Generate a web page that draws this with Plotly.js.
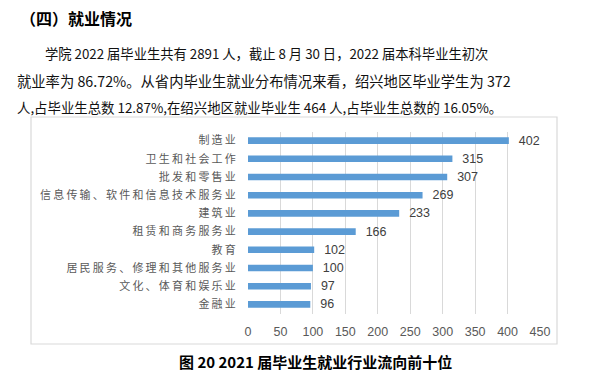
<!DOCTYPE html>
<html>
<head>
<meta charset="utf-8">
<script src="https://cdn.plot.ly/plotly-3.0.1.min.js"></script>
<style>html,body{margin:0;padding:0;background:#fff;}#chart{width:598px;height:377px;}</style>
</head>
<body>
<div id="chart"></div>
<script>
// ---- data ----
const categories = ["制造业", "卫生和社会工作", "批发和零售业", "信息传输、软件和信息技术服务业", "建筑业",
  "租赁和商务服务业", "教育", "居民服务、修理和其他服务业", "文化、体育和娱乐业", "金融业"];
const counts = [402, 315, 307, 269, 233, 166, 102, 100, 97, 96];
const xTicks = [0, 50, 100, 150, 200, 250, 300, 350, 400, 450];
const heading = "（四）就业情况";
const paragraphLines = [
  "学院 2022 届毕业生共有 2891 人，截止 8 月 30 日，2022 届本科毕业生初次",
  "就业率为 86.72%。从省内毕业生就业分布情况来看，绍兴地区毕业学生为 372",
  "人,占毕业生总数 12.87%,在绍兴地区就业毕业生 464 人,占毕业生总数的 16.05%。"
];
const caption = "图 20 2021 届毕业生就业行业流向前十位";

// ---- layout helpers ----
const W = 598, H = 377;
const px = x => x / W;
const py = y => 1 - y / H;
const spaced = s => s.split("").join("\u2009");

const trace = {
  type: "bar",
  orientation: "h",
  y: categories,
  x: counts,
  width: 0.36,
  marker: {color: "#5b9bd5"},
  text: counts.map(v => "\u00a0\u00a0" + v),
  textposition: "outside",
  constraintext: "none",
  cliponaxis: false,
  textfont: {family: "Liberation Sans, Arial, sans-serif", size: 12.5, color: "#404040"},
  hoverinfo: "skip"
};

const paraFont = s => ({family: "Noto Sans CJK SC", size: s, color: "#111"});
const annotations = [
  {text: heading, x: px(18), y: py(17.5), xanchor: "left", yanchor: "middle",
   font: {family: "Noto Sans CJK SC", size: 16, color: "#000", weight: 700}},
  {text: paragraphLines[0], x: px(43), y: py(53), xanchor: "left", yanchor: "middle", font: paraFont(13.3)},
  {text: paragraphLines[1], x: px(15), y: py(80), xanchor: "left", yanchor: "middle", font: paraFont(14.3)},
  {text: paragraphLines[2], x: px(15), y: py(107), xanchor: "left", yanchor: "middle", font: paraFont(13.4)},
  {text: caption, x: px(315), y: py(361), xanchor: "center", yanchor: "middle",
   font: {family: "Noto Sans CJK SC", size: 15, color: "#000", weight: 700}}
].map(a => Object.assign({xref: "paper", yref: "paper", showarrow: false}, a));

const layout = {
  width: W, height: H,
  margin: {l: 0, r: 0, t: 0, b: 0},
  paper_bgcolor: "#fff", plot_bgcolor: "#fff",
  showlegend: false,
  bargap: 0.64,
  xaxis: {
    domain: [px(248), px(540)],
    range: [0, 450],
    tickvals: xTicks,
    ticktext: xTicks.map(String),
    showgrid: true, gridcolor: "#d9d9d9", gridwidth: 1,
    zeroline: false, showline: false,
    ticks: "outside", ticklen: 6, tickcolor: "rgba(0,0,0,0)",
    tickfont: {family: "Liberation Sans, Arial, sans-serif", size: 12.5, color: "#595959"},
    fixedrange: true
  },
  yaxis: {
    domain: [py(313.5), py(131.5)],
    type: "category",
    categoryorder: "array", categoryarray: categories,
    autorange: "reversed",
    tickvals: categories,
    ticktext: categories.map(spaced),
    showgrid: false, zeroline: false, showline: false,
    ticks: "outside", ticklen: 9, tickcolor: "rgba(0,0,0,0)",
    tickfont: {family: "Noto Sans CJK SC", size: 11, color: "#595959"},
    fixedrange: true
  },
  shapes: [{
    type: "rect", xref: "paper", yref: "paper",
    x0: px(31), x1: px(557), y0: py(344), y1: py(117),
    line: {color: "#d9d9d9", width: 1.2}, fillcolor: "rgba(0,0,0,0)", layer: "below"
  }],
  annotations: annotations
};

Plotly.newPlot("chart", [trace], layout, {displayModeBar: false, staticPlot: true});
</script>
</body>
</html>
